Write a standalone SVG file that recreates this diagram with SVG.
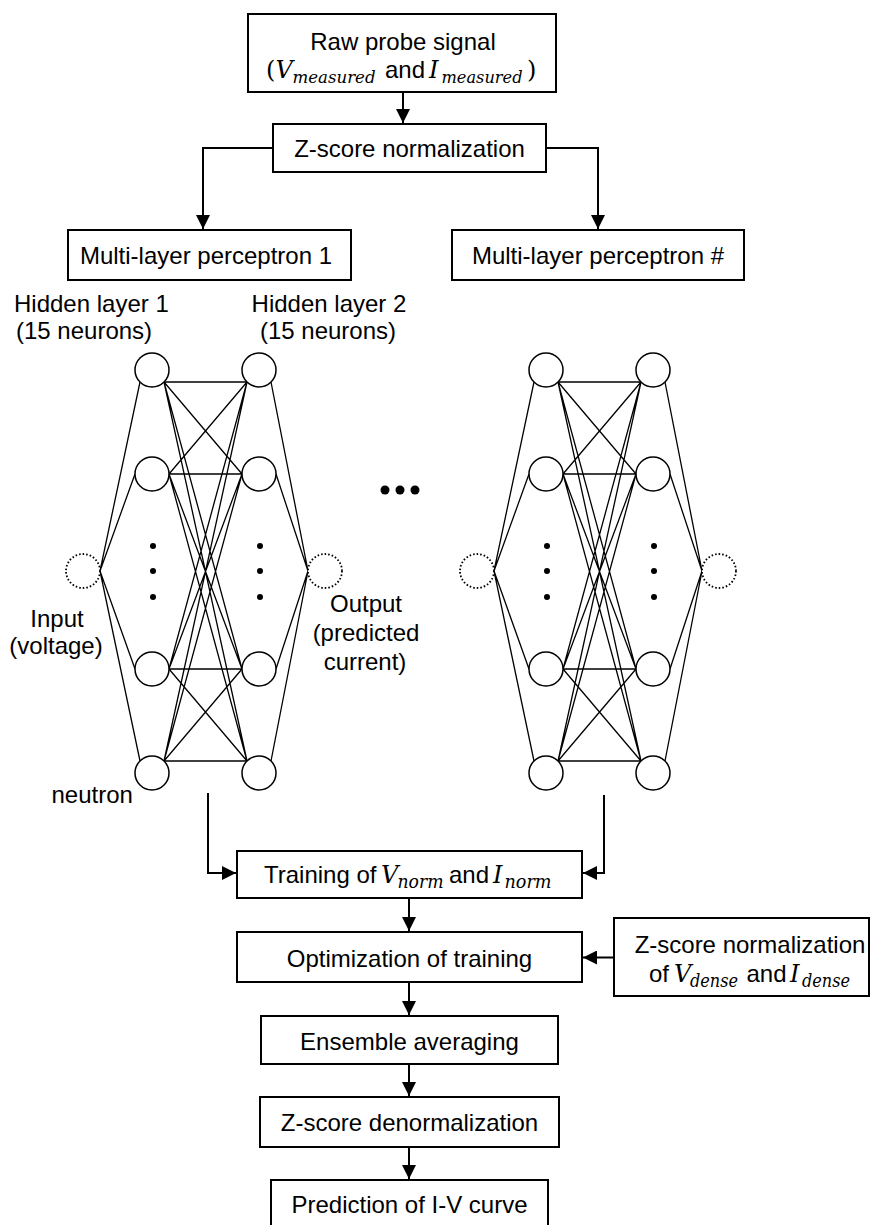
<svg xmlns="http://www.w3.org/2000/svg" width="880" height="1225" viewBox="0 0 880 1225">
<style>
.box{fill:#fff;stroke:#000;stroke-width:2}
.t{font-family:"Liberation Sans",Arial,sans-serif;font-size:24px;fill:#000}
.c{text-anchor:middle}
.mi{font-family:"DejaVu Serif",serif;font-style:italic}
.mp{font-family:"DejaVu Serif",serif;font-style:normal}
.sub{font-family:"DejaVu Serif",serif;font-style:italic;font-size:18px}
.sub2{font-family:"DejaVu Serif",serif;font-style:italic;font-size:16.5px}
.conn{stroke:#000;stroke-width:2;fill:none}
.w{stroke:#000;stroke-width:1.3;fill:none}
.n{fill:#fff;stroke:#000;stroke-width:1.5}
.io{fill:#fff;stroke:#000;stroke-width:1.8;stroke-dasharray:1.6 2}
.dot{fill:#000}
</style>
<defs>
<marker id="ah" markerUnits="userSpaceOnUse" markerWidth="14" markerHeight="14" refX="14" refY="7" orient="auto">
<path d="M0,0 L14,7 L0,14 z" fill="#000"/>
</marker>
</defs>

<g id="connectors">
<path class="conn" d="M403,92 V123" marker-end="url(#ah)"/>
<path class="conn" d="M273,148 H203 V229" marker-end="url(#ah)"/>
<path class="conn" d="M546,148 H598 V229" marker-end="url(#ah)"/>
<path class="conn" d="M208,793 V873 H236" marker-end="url(#ah)"/>
<path class="conn" d="M604,795 V873 H583" marker-end="url(#ah)"/>
<path class="conn" d="M409,898 V931" marker-end="url(#ah)"/>
<path class="conn" d="M614,957.5 H583" marker-end="url(#ah)"/>
<path class="conn" d="M409,982 V1015" marker-end="url(#ah)"/>
<path class="conn" d="M409,1064 V1096" marker-end="url(#ah)"/>
<path class="conn" d="M409,1147 V1179" marker-end="url(#ah)"/>
</g>

<g id="raw-signal">
<rect class="box" x="248" y="14" width="308" height="78"/>
<text class="t c" x="403" y="49.5">Raw probe signal</text>
<text class="t" y="78"><tspan class="mp" x="266">(</tspan><tspan class="mi" x="275.5">V</tspan><tspan class="sub2" x="292.5" y="82.5" textLength="83" lengthAdjust="spacingAndGlyphs">measured</tspan><tspan x="385" y="78">and</tspan><tspan class="mi" x="429">I</tspan><tspan class="sub2" x="441.5" y="82.5" textLength="81" lengthAdjust="spacingAndGlyphs">measured</tspan><tspan class="mp" x="527" y="78">)</tspan></text>
</g>

<g id="zscore-norm">
<rect class="box" x="273" y="124" width="273" height="48"/>
<text class="t c" x="409.5" y="156.5">Z-score normalization</text>
</g>

<g id="mlp-1">
<rect class="box" x="68" y="230" width="283" height="50"/>
<text class="t c" x="206" y="264">Multi-layer perceptron 1</text>
</g>

<g id="mlp-n">
<rect class="box" x="452" y="230" width="292" height="50"/>
<text class="t c" x="598" y="264">Multi-layer perceptron #</text>
</g>

<g id="labels">
<text class="t" x="14" y="312">Hidden layer 1</text>
<text class="t" x="16" y="339">(15 neurons)</text>
<text class="t c" x="329" y="312">Hidden layer 2</text>
<text class="t c" x="328" y="339">(15 neurons)</text>
<text class="t c" x="57" y="627">Input</text>
<text class="t c" x="56" y="654">(voltage)</text>
<text class="t c" x="366" y="612">Output</text>
<text class="t c" x="366" y="641">(predicted</text>
<text class="t c" x="365" y="670">current)</text>
<text class="t" x="51.5" y="803">neutron</text>
</g>

<g id="network-1">
<path class="w" d="M100,571 L140,382 M100,571 L135,474 M100,571 L135,669 M100,571 L140,761
M271,382 L308,571 M276,474 L308,571 M276,669 L308,571 M271,761 L308,571
M164,382 L247,382 M164,382 L242,474 M164,382 L242,669 M164,382 L247,761
M169,474 L247,382 M169,474 L242,474 M169,474 L242,669 M169,474 L247,761
M169,669 L247,382 M169,669 L242,474 M169,669 L242,669 M169,669 L247,761
M164,761 L247,382 M164,761 L242,474 M164,761 L242,669 M164,761 L247,761"/>
<g id="n1-in"><circle class="io" cx="83" cy="571" r="17"/></g>
<g id="n1-h1-1"><circle class="n" cx="152" cy="370" r="17"/></g>
<g id="n1-h1-2"><circle class="n" cx="152" cy="474" r="17"/></g>
<g id="n1-h1-3"><circle class="n" cx="152" cy="669" r="17"/></g>
<g id="n1-h1-4"><circle class="n" cx="152" cy="773" r="17"/></g>
<g id="n1-h2-1"><circle class="n" cx="259" cy="370" r="17"/></g>
<g id="n1-h2-2"><circle class="n" cx="259" cy="474" r="17"/></g>
<g id="n1-h2-3"><circle class="n" cx="259" cy="669" r="17"/></g>
<g id="n1-h2-4"><circle class="n" cx="259" cy="773" r="17"/></g>
<g id="n1-out"><circle class="io" cx="325" cy="571" r="17"/></g>
<circle class="dot" cx="153" cy="546" r="3"/>
<circle class="dot" cx="153" cy="571" r="3"/>
<circle class="dot" cx="153" cy="597" r="3"/>
<circle class="dot" cx="260" cy="546" r="3"/>
<circle class="dot" cx="260" cy="571" r="3"/>
<circle class="dot" cx="260" cy="597" r="3"/>
</g>

<g id="ellipsis">
<circle class="dot" cx="385" cy="490" r="4.5"/>
<circle class="dot" cx="400" cy="490" r="4.5"/>
<circle class="dot" cx="415" cy="490" r="4.5"/>
</g>

<g id="network-n">
<path class="w" d="M494,571 L534,382 M494,571 L529,474 M494,571 L529,669 M494,571 L534,761
M665,382 L702,571 M670,474 L702,571 M670,669 L702,571 M665,761 L702,571
M558,382 L641,382 M558,382 L636,474 M558,382 L636,669 M558,382 L641,761
M563,474 L641,382 M563,474 L636,474 M563,474 L636,669 M563,474 L641,761
M563,669 L641,382 M563,669 L636,474 M563,669 L636,669 M563,669 L641,761
M558,761 L641,382 M558,761 L636,474 M558,761 L636,669 M558,761 L641,761"/>
<g id="nn-in"><circle class="io" cx="477" cy="571" r="17"/></g>
<g id="nn-h1-1"><circle class="n" cx="546" cy="370" r="17"/></g>
<g id="nn-h1-2"><circle class="n" cx="546" cy="474" r="17"/></g>
<g id="nn-h1-3"><circle class="n" cx="546" cy="669" r="17"/></g>
<g id="nn-h1-4"><circle class="n" cx="546" cy="773" r="17"/></g>
<g id="nn-h2-1"><circle class="n" cx="653" cy="370" r="17"/></g>
<g id="nn-h2-2"><circle class="n" cx="653" cy="474" r="17"/></g>
<g id="nn-h2-3"><circle class="n" cx="653" cy="669" r="17"/></g>
<g id="nn-h2-4"><circle class="n" cx="653" cy="773" r="17"/></g>
<g id="nn-out"><circle class="io" cx="719" cy="571" r="17"/></g>
<circle class="dot" cx="547" cy="546" r="3"/>
<circle class="dot" cx="547" cy="571" r="3"/>
<circle class="dot" cx="547" cy="597" r="3"/>
<circle class="dot" cx="654" cy="546" r="3"/>
<circle class="dot" cx="654" cy="571" r="3"/>
<circle class="dot" cx="654" cy="597" r="3"/>
</g>

<g id="training">
<rect class="box" x="237" y="851" width="345" height="47"/>
<text class="t" y="883"><tspan x="264">Training of</tspan><tspan class="mi" x="381">V</tspan><tspan class="sub" x="397.5" y="887.5" textLength="46" lengthAdjust="spacingAndGlyphs">norm</tspan><tspan x="449" y="883">and</tspan><tspan class="mi" x="493">I</tspan><tspan class="sub" x="504.5" y="887.5" textLength="47" lengthAdjust="spacingAndGlyphs">norm</tspan></text>
</g>

<g id="optimization">
<rect class="box" x="237" y="932" width="345" height="50"/>
<text class="t c" x="409.5" y="967">Optimization of training</text>
</g>

<g id="zscore-dense">
<rect class="box" x="614" y="918" width="255" height="78"/>
<text class="t c" x="750" y="953">Z-score normalization</text>
<text class="t" y="982"><tspan x="649">of</tspan><tspan class="mi" x="674">V</tspan><tspan class="sub" x="690" y="986.5" textLength="48" lengthAdjust="spacingAndGlyphs">dense</tspan><tspan x="746.5" y="982">and</tspan><tspan class="mi" x="790">I</tspan><tspan class="sub" x="802" y="986.5" textLength="48" lengthAdjust="spacingAndGlyphs">dense</tspan></text>
</g>

<g id="ensemble">
<rect class="box" x="261" y="1016" width="297" height="48"/>
<text class="t c" x="409.5" y="1050">Ensemble averaging</text>
</g>

<g id="zscore-denorm">
<rect class="box" x="260" y="1097" width="299" height="50"/>
<text class="t c" x="409.5" y="1131">Z-score denormalization</text>
</g>

<g id="prediction">
<rect class="box" x="271" y="1180" width="277" height="50"/>
<text class="t c" x="409.5" y="1213">Prediction of I-V curve</text>
</g>
</svg>
